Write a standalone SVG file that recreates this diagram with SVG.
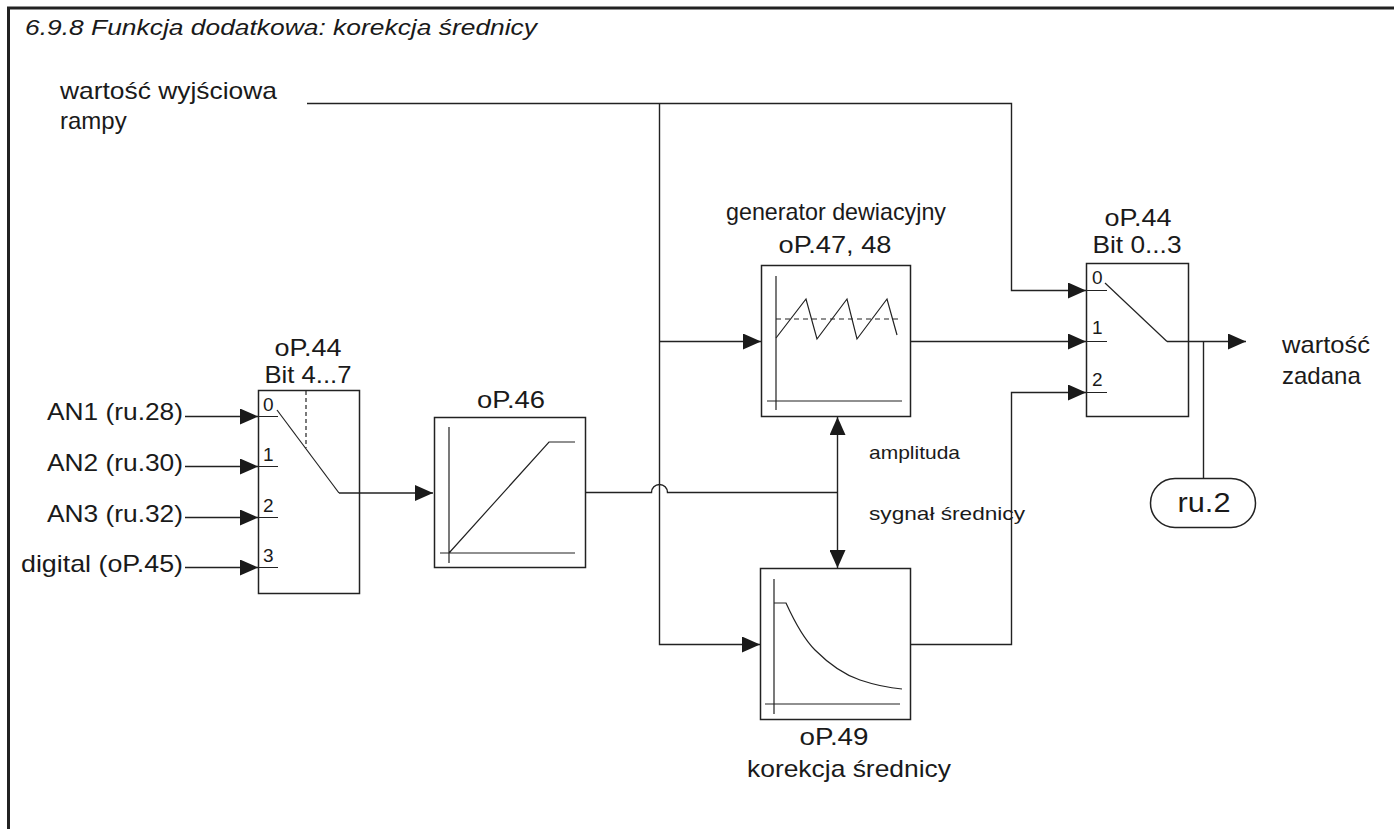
<svg xmlns="http://www.w3.org/2000/svg" width="1394" height="829" viewBox="0 0 1394 829">
<defs>
<marker id="arr" viewBox="0 0 18 16" refX="18" refY="8" markerWidth="18" markerHeight="16" markerUnits="userSpaceOnUse" orient="auto">
<path d="M0,0 L18,8 L0,16 Z" fill="#1a1a1a"/>
</marker>
<style>
text{font-family:"Liberation Sans",Arial,sans-serif;fill:#1a1a1a}
.l{fill:none;stroke:#222;stroke-width:1.4}
.box{fill:#fff;stroke:#222;stroke-width:1.5}
.thin{fill:none;stroke:#222;stroke-width:1.2}
.t22{font-size:24px}
.t24{font-size:24px}
.num{font-size:19px}
.sm{font-size:19px}
.c{text-anchor:middle}
.e{text-anchor:end}
</style>
</defs>
<rect width="1394" height="829" fill="#fff"/>
<!-- frame -->
<g id="frame">
<path d="M8.5,829 V8 H1394" fill="none" stroke="#222" stroke-width="3"/>
<text x="25" y="35" font-size="22" font-style="italic" textLength="512" lengthAdjust="spacingAndGlyphs">6.9.8 Funkcja dodatkowa: korekcja średnicy</text>
</g>
<g id="ramp-input">
<text x="60" y="99" class="t22" textLength="217" lengthAdjust="spacingAndGlyphs">wartość wyjściowa</text>
<text x="60" y="129" class="t22">rampy</text>
</g>
<g id="inputs">
<text x="183" y="420" class="t24 e" textLength="136" lengthAdjust="spacingAndGlyphs">AN1 (ru.28)</text>
<text x="183" y="471" class="t24 e" textLength="136" lengthAdjust="spacingAndGlyphs">AN2 (ru.30)</text>
<text x="183" y="522" class="t24 e" textLength="136" lengthAdjust="spacingAndGlyphs">AN3 (ru.32)</text>
<text x="183" y="572" class="t24 e" textLength="162" lengthAdjust="spacingAndGlyphs">digital (oP.45)</text>
</g>
<g id="switch1">
<text x="308" y="356" class="t24 c" textLength="67" lengthAdjust="spacingAndGlyphs">oP.44</text>
<text x="308" y="383" class="t24 c" textLength="87" lengthAdjust="spacingAndGlyphs">Bit 4...7</text>
<rect x="258.5" y="390.5" width="101" height="203" class="box"/>
<path d="M306,391 V448" class="thin" stroke-dasharray="4,3"/>
<path d="M258,416.5 H278 M258,466.5 H278 M258,517.5 H278 M258,567.5 H278" class="thin"/>
<text x="263" y="411" class="num">0</text>
<text x="263" y="461" class="num">1</text>
<text x="263" y="512" class="num">2</text>
<text x="263" y="562" class="num">3</text>
<path d="M277,410 L339,493" class="thin"/>
</g>
<g id="limiter">
<text x="511" y="408" class="t24 c" textLength="68" lengthAdjust="spacingAndGlyphs">oP.46</text>
<rect x="434.5" y="417.5" width="151" height="150" class="box"/>
<path d="M449,427 V563 M440,553 H575 M449,553 L549,442 H575" class="thin"/>
</g>
<g id="generator">
<text x="836" y="220" class="t24 c" textLength="220" lengthAdjust="spacingAndGlyphs">generator dewiacyjny</text>
<text x="835" y="253" class="t24 c" textLength="113" lengthAdjust="spacingAndGlyphs">oP.47, 48</text>
<rect x="761.5" y="265.5" width="149" height="151" class="box"/>
<path d="M776,276 V410 M767,401 H902" class="thin"/>
<path d="M776,319 H902" class="thin" stroke-dasharray="5,4"/>
<path d="M776,338 L806,299 L817,339 L847,299 L857,339 L887,299 L897,335" class="thin"/>
</g>
<g id="correction">
<rect x="760.5" y="568.5" width="150" height="151" class="box"/>
<path d="M774,579 V714 M765,704 H900" class="thin"/>
<path d="M774,603 H786 C796,625 805,640 815,650 C830,665 845,675 860,680 C878,686 890,688 902,689" class="thin"/>
<text x="834" y="745" class="t24 c" textLength="69" lengthAdjust="spacingAndGlyphs">oP.49</text>
<text x="849" y="777" class="t24 c" textLength="204" lengthAdjust="spacingAndGlyphs">korekcja średnicy</text>
</g>
<g id="switch2">
<text x="1138" y="226" class="t24 c" textLength="67" lengthAdjust="spacingAndGlyphs">oP.44</text>
<text x="1137" y="253" class="t24 c" textLength="89" lengthAdjust="spacingAndGlyphs">Bit 0...3</text>
<rect x="1086.5" y="263.5" width="102" height="153" class="box"/>
<path d="M1086,290.5 H1107 M1086,341.5 H1107 M1086,392.5 H1107" class="thin"/>
<text x="1092" y="284" class="num">0</text>
<text x="1092" y="334" class="num">1</text>
<text x="1092" y="386" class="num">2</text>
<path d="M1105,283 L1167,341.5" class="thin"/>
</g>
<g id="ru2">
<rect x="1150.5" y="478.5" width="105" height="49" rx="24.5" class="box"/>
<text x="1204" y="512" font-size="27" class="c" textLength="53" lengthAdjust="spacingAndGlyphs">ru.2</text>
</g>
<g id="output-label">
<text x="1282" y="353" class="t22" textLength="88" lengthAdjust="spacingAndGlyphs">wartość</text>
<text x="1282" y="384" class="t22">zadana</text>
</g>
<g id="signal-labels">
<text x="869" y="459" class="sm" textLength="91" lengthAdjust="spacingAndGlyphs">amplituda</text>
<text x="869" y="520" class="sm" textLength="156" lengthAdjust="spacingAndGlyphs">sygnał  średnicy</text>
</g>
<g id="connectors">
<path d="M307,103.5 H1011.5 V290.5 H1086" class="l" marker-end="url(#arr)"/>
<path d="M659.5,103 V644.5 H760" class="l" marker-end="url(#arr)"/>
<path d="M659.5,341.5 H761" class="l" marker-end="url(#arr)"/>
<path d="M185,416.5 H258" class="l" marker-end="url(#arr)"/>
<path d="M185,466.5 H258" class="l" marker-end="url(#arr)"/>
<path d="M185,517.5 H258" class="l" marker-end="url(#arr)"/>
<path d="M185,567.5 H258" class="l" marker-end="url(#arr)"/>
<path d="M339,493 H433" class="l" marker-end="url(#arr)"/>
<path d="M586,492.5 H651.5 A8,8 0 0 1 667.5,492.5 H837.5" class="l"/>
<path d="M837.5,492 V417" class="l" marker-end="url(#arr)"/>
<path d="M837.5,492 V568" class="l" marker-end="url(#arr)"/>
<path d="M911,341.5 H1086" class="l" marker-end="url(#arr)"/>
<path d="M911,644.5 H1011.5 V392.5 H1086" class="l" marker-end="url(#arr)"/>
<path d="M1167,341.5 H1246" class="l" marker-end="url(#arr)"/>
<path d="M1203.5,341.5 V478" class="l"/>
</g>
</svg>
